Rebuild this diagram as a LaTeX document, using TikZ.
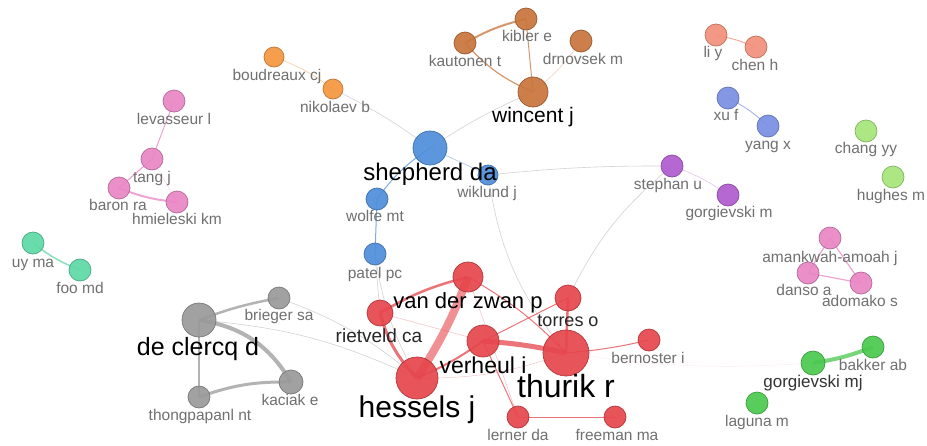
\documentclass[tikz,border=0pt]{standalone}
\usepackage{fontspec}
\setmainfont{Liberation Sans}
\usetikzlibrary{backgrounds}
\definecolor{cRed}{HTML}{E6464C}
\definecolor{cGray}{HTML}{9A9A9A}
\definecolor{cBlue}{HTML}{4F8EDB}
\definecolor{cBrown}{HTML}{C8743C}
\definecolor{cOrange}{HTML}{F5963F}
\definecolor{cPink}{HTML}{E986C4}
\definecolor{cTeal}{HTML}{5ED9A6}
\definecolor{cPurple}{HTML}{B05CCF}
\definecolor{cSalmon}{HTML}{F2907A}
\definecolor{cPeri}{HTML}{7A8FE3}
\definecolor{cLime}{HTML}{A6E67A}
\definecolor{cGreen}{HTML}{4BC94E}
\definecolor{lblgray}{HTML}{707070}
\definecolor{faint}{HTML}{C8C8C8}

\begin{document}
\begin{tikzpicture}[x=1pt,y=-1pt,
  au/.style={circle,inner sep=0pt,minimum size=22pt,draw=#1!78!black,fill=#1,fill opacity=0.92,line width=0.7pt},
  lbl/.style={inner sep=0pt,anchor=base,text=lblgray,font=\fontsize{15.5}{16}\selectfont},
  big/.style={lbl,text=black,font=\fontsize{#1}{#1}\selectfont},
  ed/.style={draw=#1,draw opacity=0.75,line width=1pt},
  fe/.style={draw=faint,draw opacity=0.8,line width=0.6pt}]
\useasboundingbox (0,0) rectangle (927,445);
% authors
\node[au=cOrange,minimum size=20pt] (boudreaux) at (274,57) {};
\node[au=cOrange,minimum size=20pt] (nikolaev) at (333,89) {};
\node[au=cPink] (levasseur) at (174,101) {};
\node[au=cPink] (tang) at (152,159) {};
\node[au=cPink] (baron) at (119,188) {};
\node[au=cPink] (hmieleski) at (177,202) {};
\node[au=cTeal] (uyma) at (33,243) {};
\node[au=cTeal] (foomd) at (80,270) {};
\node[au=cGray,minimum size=34pt] (declercq) at (199,320) {};
\node[au=cGray] (brieger) at (279,298) {};
\node[au=cGray,minimum size=24pt] (kaciak) at (291,382) {};
\node[au=cGray] (thongpapanl) at (199,397) {};
\node[au=cBrown] (kibler) at (526,19) {};
\node[au=cBrown] (kautonen) at (465,43) {};
\node[au=cBrown] (drnovsek) at (581,41) {};
\node[au=cBrown,minimum size=30pt] (wincent) at (533,92) {};
\node[au=cBlue,minimum size=34pt] (shepherd) at (430,148) {};
\node[au=cBlue,minimum size=20pt] (wiklund) at (488,175) {};
\node[au=cBlue] (wolfe) at (377,199) {};
\node[au=cBlue] (patel) at (375,254) {};
\node[au=cPurple] (stephan) at (672,166) {};
\node[au=cPurple] (gorgievskim) at (728,195) {};
\node[au=cSalmon] (liy) at (716,35) {};
\node[au=cSalmon] (chenh) at (756,47) {};
\node[au=cPeri] (xuf) at (728,98) {};
\node[au=cPeri] (yangx) at (768,126) {};
\node[au=cLime] (changyy) at (866,131) {};
\node[au=cLime] (hughes) at (893,177) {};
\node[au=cPink] (amankwah) at (830,238) {};
\node[au=cPink] (danso) at (808,273) {};
\node[au=cPink] (adomako) at (861,283) {};
\node[au=cGreen,minimum size=24pt] (gorgievskimj) at (813,363) {};
\node[au=cGreen] (bakker) at (873,347) {};
\node[au=cGreen] (laguna) at (757,403) {};
\node[au=cRed,minimum size=30pt] (vanderzwan) at (468,277) {};
\node[au=cRed,minimum size=26pt] (rietveld) at (380,313) {};
\node[au=cRed,minimum size=32pt] (verheul) at (483,341) {};
\node[au=cRed,minimum size=26pt] (torres) at (568,298) {};
\node[au=cRed,minimum size=46pt] (thurik) at (566,353) {};
\node[au=cRed,minimum size=42pt] (hessels) at (417,378) {};
\node[au=cRed] (bernoster) at (649,340) {};
\node[au=cRed] (lerner) at (518,417) {};
\node[au=cRed] (freeman) at (615,417) {};
% labels
\node[lbl] (boudreaux-l) at (277,80.5) {boudreaux cj};
\node[lbl] (nikolaev-l) at (335,112.5) {nikolaev b};
\node[lbl] (levasseur-l) at (174,124.5) {levasseur l};
\node[lbl] (tang-l) at (152,182.5) {tang j};
\node[lbl] (baron-l) at (118,210.5) {baron ra};
\node[lbl] (hmieleski-l) at (177,224.5) {hmieleski km};
\node[lbl] (uyma-l) at (33,267.5) {uy ma};
\node[lbl] (foomd-l) at (80,293.5) {foo md};
\node[big=25] (declercq-l) at (198,355) {de clercq d};
\node[lbl] (brieger-l) at (279,320.5) {brieger sa};
\node[lbl] (kaciak-l) at (290,405.5) {kaciak e};
\node[lbl] (thongpapanl-l) at (200,420.5) {thongpapanl nt};
\node[lbl] (kibler-l) at (527,41.5) {kibler e};
\node[lbl] (kautonen-l) at (465,66.5) {kautonen t};
\node[lbl] (drnovsek-l) at (583,64.5) {drnovsek m};
\node[big=21] (wincent-l) at (533,122.5) {wincent j};
\node[big=24] (shepherd-l) at (430,180.5) {shepherd da};
\node[lbl] (wiklund-l) at (487,197.5) {wiklund j};
\node[lbl] (wolfe-l) at (375,221.5) {wolfe mt};
\node[lbl] (patel-l) at (375,278.5) {patel pc};
\node[lbl] (stephan-l) at (668,189.5) {stephan u};
\node[lbl] (gorgievskim-l) at (729,217.5) {gorgievski m};
\node[lbl] (liy-l) at (713,57.5) {li y};
\node[lbl] (chenh-l) at (755,70.5) {chen h};
\node[lbl] (xuf-l) at (726,120.5) {xu f};
\node[lbl] (yangx-l) at (768,149.5) {yang x};
\node[lbl] (changyy-l) at (866,153.5) {chang yy};
\node[lbl] (hughes-l) at (891,200.5) {hughes m};
\node[lbl] (amankwah-l) at (830,262.5) {amankwah-amoah j};
\node[lbl] (danso-l) at (804,295.5) {danso a};
\node[lbl] (adomako-l) at (860,306.5) {adomako s};
\node[big=17,text=black!80] (gorgievskimj-l) at (813,387) {gorgievski mj};
\node[lbl] (bakker-l) at (873,370.5) {bakker ab};
\node[lbl] (laguna-l) at (757,426.5) {laguna m};
\node[big=22] (vanderzwan-l) at (468,308) {van der zwan p};
\node[big=19,text=black!85] (rietveld-l) at (379,342) {rietveld ca};
\node[big=23] (verheul-l) at (483,373) {verheul i};
\node[big=18,text=black!85] (torres-l) at (568,326.5) {torres o};
\node[big=32] (thurik-l) at (566,397) {thurik r};
\node[big=30] (hessels-l) at (417,417) {hessels j};
\node[lbl] (bernoster-l) at (648,363.5) {bernoster i};
\node[lbl] (lerner-l) at (518,440.5) {lerner da};
\node[lbl] (freeman-l) at (617,440.5) {freeman ma};
% links
\begin{scope}[on background layer]
\fill[white] (0,0) rectangle (927,445);
\draw[fe] (nikolaev.center) to[bend left=5] (shepherd.center);
\draw[fe] (shepherd.center) to[bend left=5] (wincent.center);
\draw[fe] (wiklund.center) to[bend left=3] (stephan.center);
\draw[fe] (wiklund.center) to[bend right=15] (thurik.center);
\draw[fe] (stephan.center) to[bend right=12] (torres.center);
\draw[fe] (patel.center) -- (rietveld.center);
\draw[fe] (brieger.center) to[bend left=10] (hessels.center);
\draw[fe] (declercq.center) to[bend left=10] (hessels.center);
\draw[fe] (patel.center) to[bend right=10] (hessels.center);
\draw[ed=cOrange,line width=0.6pt,draw opacity=0.5] (boudreaux.center) to[bend left=8] (nikolaev.center);
\draw[ed=cGray,line width=2.5pt] (declercq.center) to[bend left=5] (brieger.center);
\draw[ed=cGray,line width=4pt] (declercq.center) to[bend left=25] (kaciak.center);
\draw[ed=cGray,line width=2.5pt] (declercq.center) -- (thongpapanl.center);
\draw[ed=cGray,line width=3pt] (thongpapanl.center) to[bend left=10] (kaciak.center);
\draw[ed=cPink,line width=1pt] (levasseur.center) -- (tang.center);
\draw[ed=cPink,line width=1.2pt] (tang.center) -- (baron.center);
\draw[ed=cPink,line width=2pt] (baron.center) to[bend right=8] (hmieleski.center);
\draw[ed=cPink,line width=0.5pt,draw opacity=0.35] (tang.center) -- (hmieleski.center);
\draw[ed=cTeal,line width=1.5pt] (uyma.center) to[bend right=8] (foomd.center);
\draw[ed=cBrown,line width=2pt] (kautonen.center) to[bend left=8] (kibler.center);
\draw[ed=cBrown,line width=1pt] (kibler.center) -- (wincent.center);
\draw[ed=cBrown,line width=1.2pt] (kautonen.center) to[bend right=12] (wincent.center);
\draw[ed=cBrown,line width=0.6pt,draw opacity=0.3] (drnovsek.center) to[bend left=8] (wincent.center);
\draw[ed=cBlue,line width=0.7pt,draw opacity=0.45] (shepherd.center) -- (wiklund.center);
\draw[ed=cBlue,line width=1pt] (shepherd.center) to[bend right=10] (wolfe.center);
\draw[ed=cBlue,line width=1pt] (wolfe.center) -- (patel.center);
\draw[ed=cPurple,line width=0.6pt,draw opacity=0.35] (stephan.center) to[bend left=8] (gorgievskim.center);
\draw[ed=cSalmon,line width=1pt] (liy.center) to[bend left=5] (chenh.center);
\draw[ed=cPeri,line width=0.8pt] (xuf.center) to[bend left=8] (yangx.center);
\draw[ed=cPink,line width=1.2pt] (amankwah.center) -- (danso.center);
\draw[ed=cPink,line width=1.2pt] (amankwah.center) -- (adomako.center);
\draw[ed=cPink,line width=1.2pt] (danso.center) -- (adomako.center);
\draw[ed=cGreen,line width=4pt] (gorgievskimj.center) to[bend right=6] (bakker.center);
\draw[ed=cRed,line width=8pt,draw opacity=0.6] (hessels.center) to[bend right=6] (vanderzwan.center);
\draw[ed=cRed,line width=3pt] (hessels.center) to[bend left=14] (rietveld.center);
\draw[ed=cRed,line width=2.5pt] (rietveld.center) to[bend left=8] (vanderzwan.center);
\draw[ed=cRed,line width=2pt] (hessels.center) to[bend right=6] (verheul.center);
\draw[ed=cRed,line width=5pt] (verheul.center) to[bend left=4] (thurik.center);
\draw[ed=cRed,line width=1pt] (verheul.center) -- (torres.center);
\draw[ed=cRed,line width=2.5pt] (torres.center) -- (thurik.center);
\draw[ed=cRed,line width=1pt] (vanderzwan.center) to[bend left=8] (thurik.center);
\draw[ed=cRed,line width=1pt] (thurik.center) to[bend right=4] (bernoster.center);
\draw[ed=cRed,line width=1pt] (verheul.center) -- (lerner.center);
\draw[ed=cRed,line width=0.8pt] (lerner.center) -- (freeman.center);
\draw[ed=cRed,line width=0.5pt,draw opacity=0.35] (rietveld.center) -- (verheul.center);
\draw[ed=cRed,line width=0.5pt,draw opacity=0.35] (vanderzwan.center) -- (lerner.center);
\draw[ed=cRed,line width=0.5pt,draw opacity=0.3] (hessels.center) to[bend right=10] (thurik.center);
\draw[ed=cRed,line width=0.5pt,draw opacity=0.1] (thurik.center) to[bend right=6] (gorgievskimj.center);
\end{scope}
\end{tikzpicture}
\end{document}
